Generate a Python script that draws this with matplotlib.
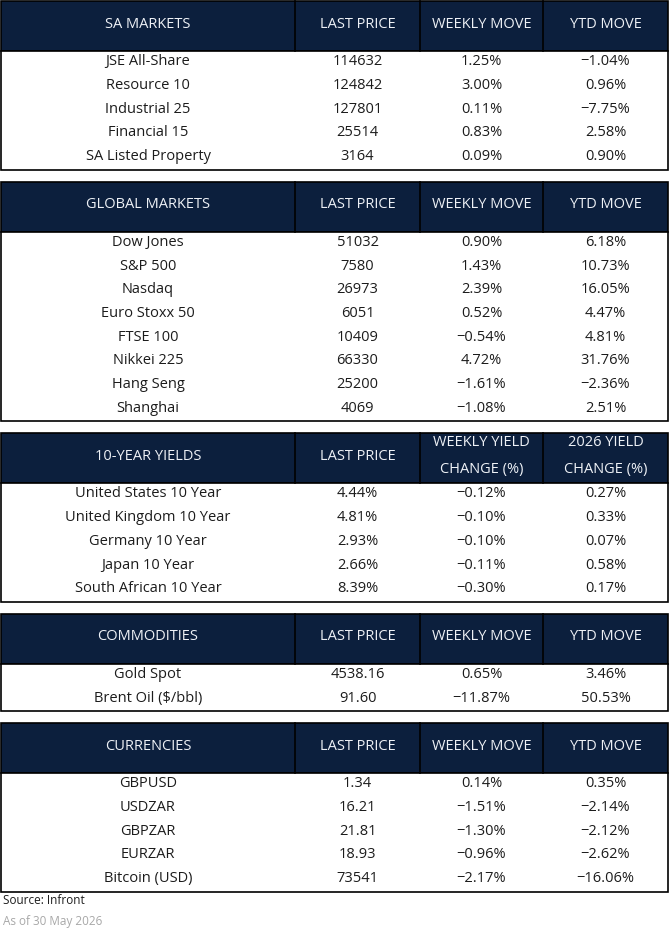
import matplotlib
matplotlib.use("Agg")
import matplotlib.pyplot as plt
from matplotlib.patches import Rectangle

plt.rcParams['font.family'] = ['Open Sans', 'DejaVu Sans']

# ---- data ----
sa_names = ["JSE All-Share", "Resource 10", "Industrial 25", "Financial 15", "SA Listed Property"]
sa_price = ["114632", "124842", "127801", "25514", "3164"]
sa_week = ["1.25%", "3.00%", "0.11%", "0.83%", "0.09%"]
sa_ytd = ["-1.04%", "0.96%", "-7.75%", "2.58%", "0.90%"]

gl_names = ["Dow Jones", "S&P 500", "Nasdaq", "Euro Stoxx 50", "FTSE 100", "Nikkei 225", "Hang Seng", "Shanghai"]
gl_price = ["51032", "7580", "26973", "6051", "10409", "66330", "25200", "4069"]
gl_week = ["0.90%", "1.43%", "2.39%", "0.52%", "-0.54%", "4.72%", "-1.61%", "-1.08%"]
gl_ytd = ["6.18%", "10.73%", "16.05%", "4.47%", "4.81%", "31.76%", "-2.36%", "2.51%"]

yl_names = ["United States 10 Year", "United Kingdom 10 Year", "Germany 10 Year", "Japan 10 Year", "South African 10 Year"]
yl_price = ["4.44%", "4.81%", "2.93%", "2.66%", "8.39%"]
yl_week = ["-0.12%", "-0.10%", "-0.10%", "-0.11%", "-0.30%"]
yl_ytd = ["0.27%", "0.33%", "0.07%", "0.58%", "0.17%"]

cm_names = ["Gold Spot", "Brent Oil ($/bbl)"]
cm_price = ["4538.16", "91.60"]
cm_week = ["0.65%", "-11.87%"]
cm_ytd = ["3.46%", "50.53%"]

fx_names = ["GBPUSD", "USDZAR", "GBPZAR", "EURZAR", "Bitcoin (USD)"]
fx_price = ["1.34", "16.21", "21.81", "18.93", "73541"]
fx_week = ["0.14%", "-1.51%", "-1.30%", "-0.96%", "-2.17%"]
fx_ytd = ["0.35%", "-2.14%", "-2.12%", "-2.62%", "-16.06%"]

move_hdr = ["LAST PRICE", "WEEKLY MOVE", "YTD MOVE"]
yield_hdr = ["LAST PRICE", "WEEKLY YIELD\nCHANGE (%)", "2026 YIELD\nCHANGE (%)"]

sections = [
    ("SA MARKETS", move_hdr, [sa_names, sa_price, sa_week, sa_ytd]),
    ("GLOBAL MARKETS", move_hdr, [gl_names, gl_price, gl_week, gl_ytd]),
    ("10-YEAR YIELDS", yield_hdr, [yl_names, yl_price, yl_week, yl_ytd]),
    ("COMMODITIES", move_hdr, [cm_names, cm_price, cm_week, cm_ytd]),
    ("CURRENCIES", move_hdr, [fx_names, fx_price, fx_week, fx_ytd]),
]

NAVY = "#0c1f3d"
TXT = "#1c1c1c"
col_edges = [1, 295, 420, 543, 668]
hdr_h = 50
row_h = 23.7
gap = 12
fs = 10.5

fig = plt.figure(figsize=(6.7, 9.4), dpi=100)
ax = fig.add_axes([0, 0, 1, 1])
ax.set_xlim(0, 670)
ax.set_ylim(940, 0)
ax.axis("off")

def mk(v):
    # typographic minus like the original
    return v.replace("-", "\u2212") if v.startswith("-") else v

top = 1
for title, hdrs, cols in sections:
    n = len(cols[0])
    body_h = n * row_h
    ax.add_patch(Rectangle((col_edges[0], top), col_edges[-1] - col_edges[0], hdr_h,
                           facecolor=NAVY, edgecolor="black", lw=1.2))
    for xe in col_edges[1:-1]:
        ax.plot([xe, xe], [top, top + hdr_h], color="black", lw=1.2)
    labels = [title] + hdrs
    for i, lab in enumerate(labels):
        cx = (col_edges[i] + col_edges[i + 1]) / 2
        ax.text(cx, top + hdr_h / 2 - 2, lab, ha="center", va="center", color="#eef1f6",
                fontsize=fs, linespacing=2.1)
    btop = top + hdr_h
    ax.add_patch(Rectangle((col_edges[0], btop), col_edges[-1] - col_edges[0], body_h,
                           facecolor="white", edgecolor="black", lw=1.2))
    for r in range(n):
        cy = btop + row_h * (r + 0.5) - 1
        for i, col in enumerate(cols):
            cx = (col_edges[i] + col_edges[i + 1]) / 2
            ax.text(cx, cy, mk(col[r]), ha="center", va="center", color=TXT, fontsize=fs)
    top = btop + body_h + gap

ax.text(3, top - 3, "Source: Infront", ha="left", va="center", color=TXT, fontsize=8.5)
ax.text(3, top + 18, "As of 30 May 2026", ha="left", va="center", color="#a8a8a8", fontsize=8.5)

fig.savefig("out.png", dpi=100)
